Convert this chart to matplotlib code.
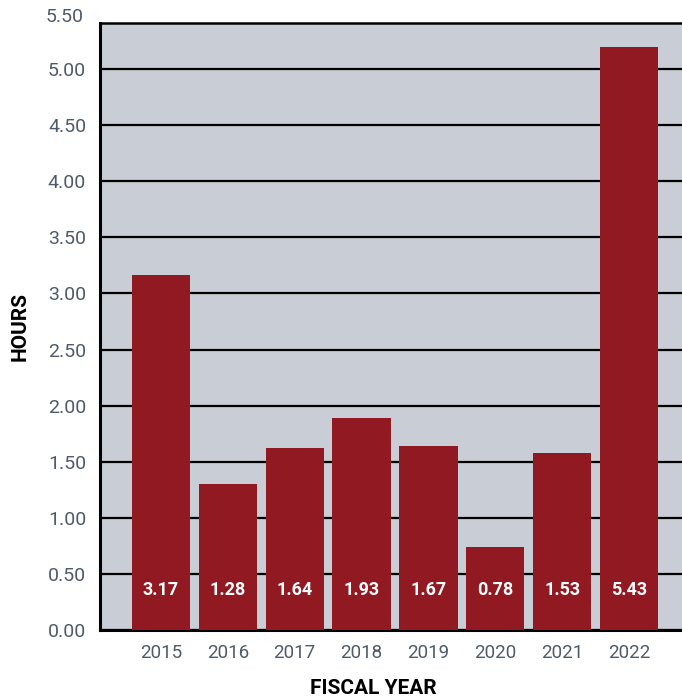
import matplotlib.pyplot as plt
import matplotlib.transforms as mtransforms
from matplotlib import font_manager

years = ["2015", "2016", "2017", "2018", "2019", "2020", "2021", "2022"]
# bar heights as drawn in the picture
heights = [3.16, 1.30, 1.62, 1.89, 1.64, 0.74, 1.58, 5.20]
# printed value labels
value_labels = ["3.17", "1.28", "1.64", "1.93", "1.67", "0.78", "1.53", "5.43"]
yticks = [0.0, 0.5, 1.0, 1.5, 2.0, 2.5, 3.0, 3.5, 4.0, 4.5, 5.0]

names = {f.name for f in font_manager.fontManager.ttflist}
fam = "Liberation Sans Narrow" if "Liberation Sans Narrow" in names else "Roboto"
plt.rcParams["font.family"] = [fam, "DejaVu Sans"]

bar_color = "#911921"
bg = "#c9ced6"
grey_text = "#4f5b68"

fig = plt.figure(figsize=(6.82, 6.98), dpi=100)
ax = fig.add_axes([0.1466, 0.0974, 0.8534, 0.8696])
ax.set_facecolor(bg)

x = list(range(len(years)))
ax.bar(x, heights, width=0.87, color=bar_color, zorder=3)

for xi, lab in zip(x, value_labels):
    ax.text(xi, 0.36, lab, ha="center", va="center", color="white",
            fontsize=13, fontweight="bold", zorder=4)

ax.set_xlim(-0.91, 7.79)
ax.set_ylim(0, 5.41)
ax.set_yticks(yticks)
ax.set_yticklabels([f"{v:.2f}" for v in yticks], color=grey_text, fontsize=14)
ax.set_xticks(x)
ax.set_xticklabels(years, color=grey_text, fontsize=13.5)
ax.tick_params(axis="both", length=0)
ax.tick_params(axis="y", pad=10)
ax.tick_params(axis="x", pad=10)

# top label sits just above the frame
trans = mtransforms.blended_transform_factory(ax.transAxes, ax.transData)
ax.text(-0.0275, 5.46, "5.50", ha="right", va="center", color=grey_text,
        fontsize=14, transform=trans, clip_on=False)

ax.yaxis.grid(True, color="black", linewidth=1.6, zorder=1)
ax.set_axisbelow(True)

for side in ["left", "bottom", "top"]:
    ax.spines[side].set_color("black")
ax.spines["left"].set_linewidth(2.2)
ax.spines["bottom"].set_linewidth(2.2)
ax.spines["top"].set_linewidth(1.8)
ax.spines["right"].set_visible(False)

ax.set_ylabel("HOURS", fontsize=15, fontweight="bold", labelpad=13)
ax.set_xlabel("FISCAL YEAR", fontsize=15, fontweight="bold", labelpad=6)
ax.xaxis.set_label_coords(0.47, -0.08)

fig.savefig("out.png", dpi=100)
